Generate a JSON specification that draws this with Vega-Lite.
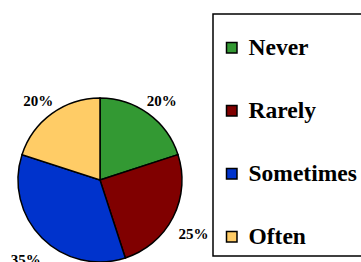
{
  "$schema": "https://vega.github.io/schema/vega-lite/v6.json",
  "width": 200,
  "height": 360,
  "padding": 0,
  "background": "white",
  "config": {"view": {"stroke": null}},
  "data": {"values": [
    {"category": "Never", "share": 0.20, "order": 1},
    {"category": "Rarely", "share": 0.25, "order": 2},
    {"category": "Sometimes", "share": 0.35, "order": 3},
    {"category": "Often", "share": 0.20, "order": 4}
  ]},
  "encoding": {
    "theta": {"field": "share", "type": "quantitative", "stack": true},
    "order": {"field": "order", "type": "quantitative"}
  },
  "layer": [
    {
      "mark": {"type": "arc", "outerRadius": 82, "stroke": "black", "strokeWidth": 1.5},
      "encoding": {
        "color": {
          "field": "category", "type": "nominal",
          "scale": {"domain": ["Never", "Rarely", "Sometimes", "Often"], "range": ["#339933", "#800000", "#0033cc", "#ffcc66"]},
          "legend": {
            "orient": "none", "legendX": 213, "legendY": 14,
            "title": " ", "titleFontSize": 15, "titlePadding": 0,
            "padding": 7,
            "strokeColor": "black", "fillColor": "white",
            "symbolType": "square", "symbolSize": 110, "symbolStrokeColor": "black", "symbolStrokeWidth": 1.5,
            "labelFont": "Liberation Serif", "labelFontWeight": "bold", "labelFontSize": 23.5, "labelColor": "black",
            "labelOffset": 5, "rowPadding": 38,
            "encode": {"legend": {"update": {"strokeWidth": {"value": 1.5}}}}
          }
        }
      }
    },
    {
      "mark": {"type": "text", "radius": 105, "baseline": "middle", "dy": 6, "font": "Liberation Serif", "fontWeight": "bold", "fontSize": 15, "color": "black"},
      "encoding": {
        "text": {"field": "share", "type": "quantitative", "format": ".0%"}
      }
    }
  ]
}
